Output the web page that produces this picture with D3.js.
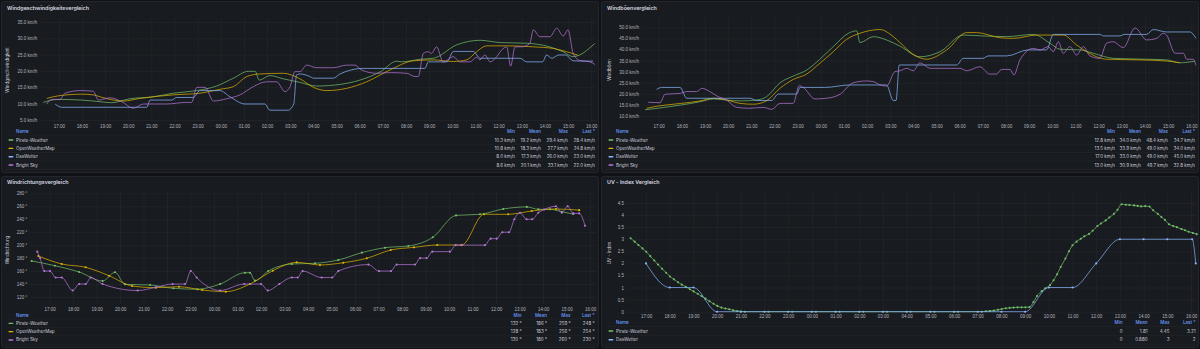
<!DOCTYPE html>
<html>
<head>
<meta charset="utf-8">
<script src="https://cdn.jsdelivr.net/npm/d3@7"></script>
<style>
  html, body { margin: 0; padding: 0; background: #111217; }
  svg { display: block; font-family: Inter, "Noto Sans", sans-serif; }
</style>
</head>
<body>
<svg id="dash" width="1200" height="349"></svg>
<script>
// Time is expressed in hours after 16:00 of the first day (17:00 = 1 ... 16:00 = 24).
const hourTicks = [1,2,3,4,5,6,7,8,9,10,11,12,13,14,15,16,17,18,19,20,21,22,23,24];
const hourLabels = ["17:00","18:00","19:00","20:00","21:00","22:00","23:00","00:00","01:00","02:00","03:00","04:00",
                    "05:00","06:00","07:00","08:00","09:00","10:00","11:00","12:00","13:00","14:00","15:00","16:00"];

// ---- Windgeschwindigkeit (km/h) ----
const speedTicks = [5,10,15,20,25,30,35];
const speedTickLabels = ["5.0 km/h","10.0 km/h","15.0 km/h","20.0 km/h","25.0 km/h","30.0 km/h","35.0 km/h"];
const speedPirate = [[0.33,10.4],[0.98,11.3],[2.0,11.1],[2.78,10.6],[3.28,10.3],[4.07,11.5],[5.08,12.1],[5.95,13.2],
  [6.96,14.0],[7.82,15.4],[8.54,17.8],[9.19,19.9],[9.48,19.9],[9.66,17.2],[10.12,18.6],[10.7,17.6],[11.42,16.5],
  [12.14,15.4],[13.15,15.9],[14.0,17.2],[14.9,19.8],[15.6,23.0],[15.8,22.8],[16.63,23.6],[17.18,23.9],[18.19,28.0],
  [19.2,29.4],[20.07,28.7],[21.2,28.5],[22.2,27.4],[22.78,25.9],[23.22,24.4],[24.15,28.4]];
const speedOwm = [[0.48,11.6],[0.98,12.4],[1.99,12.9],[2.49,12.7],[2.78,12.1],[3.35,11.1],[3.79,10.8],[4.5,11.6],
  [5.95,12.7],[7.1,13.2],[7.96,14.4],[8.54,15.2],[9.12,18.3],[9.69,19.1],[10.7,19.3],[11.42,17.6],[12.0,15.0],
  [12.57,14.0],[13.44,14.7],[14.3,16.7],[15.3,20.3],[16.31,23.1],[17.18,23.4],[18.04,22.9],[18.62,23.4],[19.05,25.9],
  [19.48,27.7],[20.35,27.7],[21.5,27.4],[22.36,26.9],[22.94,25.9],[23.44,24.8]];
const speedDw = [[0.84,9.9],[1.13,8.9],[4.8,8.9],[4.94,11.1],[5.88,11.1],[6.09,11.9],[6.81,11.9],[7.1,14.0],[7.96,14.0],
  [8.4,12.1],[9.04,9.9],[9.9,9.9],[10.12,8.0],[10.9,8.0],[11.15,9.9],[11.27,18.8],[11.42,19.1],[11.85,18.3],[12.0,17.8],
  [12.86,17.8],[13.15,19.1],[14.15,20.8],[16.82,20.8],[16.96,22.8],[17.76,22.8],[18.05,26.0],[18.91,26.0],[19.2,23.9],
  [20.93,23.9],[21.21,22.8],[21.9,22.8],[22.07,24.9],[22.3,23.9],[22.6,24.9],[22.9,24.9],[23.22,23.1],[24.08,23.0]];
const speedBs = [[0.48,9.9],[0.69,11.3],[1.05,11.3],[1.27,13.2],[1.92,14.0],[2.49,13.8],[2.71,11.1],[3.21,11.8],
  [3.72,10.6],[4.22,8.6],[4.65,9.9],[5.66,9.9],[6.52,10.4],[6.74,10.4],[6.96,15.0],[7.32,15.0],[7.68,10.8],[8.25,11.5],
  [8.83,12.7],[9.4,15.2],[9.98,16.7],[10.41,16.7],[10.77,13.7],[10.99,15.2],[11.2,19.8],[11.42,19.8],[11.71,21.8],
  [12.14,21.0],[12.86,21.0],[13.44,21.8],[13.79,21.8],[14.08,20.3],[14.73,19.3],[15.31,19.5],[16.03,19.3],[16.39,18.3],
  [16.53,18.3],[16.75,25.4],[16.96,25.9],[17.1,25.4],[17.32,27.4],[17.61,22.7],[18.04,24.4],[18.33,22.8],[18.76,22.8],
  [19.05,24.2],[19.19,23.4],[19.41,24.9],[19.63,22.8],[19.92,24.4],[20.13,26.4],[20.35,27.4],[20.52,21.5],[20.71,27.4],
  [21.0,27.4],[21.35,28.5],[21.5,32.6],[21.78,30.5],[22.22,30.5],[22.51,33.1],[22.79,30.7],[23.0,32.6],[23.22,25.4],
  [23.51,23.2],[23.94,22.8],[24.16,22.0]];
const speedStats = [["10.3 km/h","19.2 km/h","29.4 km/h","28.4 km/h"],
                    ["10.8 km/h","18.3 km/h","27.7 km/h","24.8 km/h"],
                    ["8.0 km/h","17.3 km/h","26.0 km/h","23.0 km/h"],
                    ["8.6 km/h","20.1 km/h","33.1 km/h","22.0 km/h"]];

// ---- Windböen (km/h) ----
const gustTicks = [10,15,20,25,30,35,40,45,50];
const gustTickLabels = ["10.0 km/h","15.0 km/h","20.0 km/h","25.0 km/h","30.0 km/h","35.0 km/h","40.0 km/h","45.0 km/h","50.0 km/h"];
const gustPirate = [[0.41,12.8],[0.98,13.5],[1.99,15.0],[2.78,16.4],[3.36,17.7],[3.94,17.2],[4.51,16.8],[5.23,17.2],
  [5.66,18.7],[6.24,25.0],[6.81,28.0],[7.39,30.7],[7.96,35.6],[8.54,41.3],[9.19,47.3],[9.55,48.4],[9.69,43.1],
  [10.27,45.8],[10.84,44.3],[11.42,41.5],[12.28,36.7],[13.15,39.0],[14.15,46.5],[15.0,46.1],[16.03,45.8],[17.18,46.8],
  [17.9,42.8],[18.33,40.1],[19.2,39.8],[19.76,38.3],[20.63,36.0],[22.07,35.6],[22.93,35.3],[23.5,34.0],[24.15,34.7]];
const gustOwm = [[0.48,13.5],[0.98,14.5],[1.99,15.7],[2.78,16.8],[3.36,18.0],[3.94,17.2],[4.51,15.7],[5.09,15.3],
  [5.66,16.9],[6.24,22.5],[6.81,26.5],[7.39,28.9],[7.96,33.8],[8.54,39.0],[9.12,44.6],[9.69,47.3],[10.55,49.0],
  [11.13,45.8],[11.42,43.1],[11.99,37.8],[12.57,35.6],[13.44,39.8],[14.3,47.6],[14.73,47.6],[15.74,45.3],[16.31,45.0],
  [17.32,46.5],[18.47,46.5],[19.05,42.0],[19.48,39.0],[20.34,35.6],[21.78,35.3],[22.93,34.8],[23.5,34.0]];
const gustDw = [[0.91,22.0],[1.13,22.9],[1.92,22.9],[2.21,18.0],[4.94,18.0],[5.23,17.0],[5.88,17.0],[6.16,19.9],
  [6.96,19.9],[7.1,22.9],[8.2,22.9],[9.26,24.0],[10.84,24.0],[11.13,17.0],[11.25,17.0],[11.39,33.0],[13.87,33.0],
  [14.15,36.0],[15.0,36.0],[15.23,37.1],[16.03,37.1],[16.96,39.8],[17.75,39.8],[18.04,46.8],[20.05,46.8],[20.2,46.1],
  [20.92,46.1],[21.1,46.8],[22.07,46.8],[22.36,49.0],[22.93,47.9],[23.94,47.9],[24.2,45.0]];
const gustBs = [[0.55,16.2],[1.06,16.0],[1.27,19.8],[1.92,20.2],[2.21,21.0],[2.64,21.0],[2.86,22.5],[3.21,21.0],
  [3.57,18.7],[3.93,17.2],[4.37,13.9],[4.94,13.5],[5.52,13.9],[5.88,13.0],[6.24,15.7],[6.81,15.7],[7.07,23.7],
  [7.24,22.9],[7.75,17.7],[8.25,18.0],[8.83,19.8],[9.4,25.0],[9.98,25.8],[10.27,25.5],[10.56,24.0],[10.84,23.5],
  [11.2,30.0],[11.42,30.4],[11.71,31.5],[12.0,30.4],[12.28,34.0],[12.72,31.5],[14.01,31.5],[14.3,30.4],[14.87,32.2],
  [15.3,28.9],[15.59,28.9],[15.8,31.0],[16.17,31.0],[16.34,28.5],[16.6,35.3],[17.18,40.5],[17.47,39.8],[17.82,41.3],
  [18.04,39.0],[18.26,43.5],[18.47,38.3],[18.76,41.3],[19.05,37.5],[19.34,41.3],[19.62,37.1],[20.05,36.0],[20.34,42.8],
  [20.63,43.5],[21.06,40.8],[21.57,49.7],[22.07,44.3],[22.5,45.0],[22.79,47.3],[22.93,46.5],[23.3,38.3],[23.66,38.3],
  [23.8,35.6],[24.09,35.6],[24.2,32.8]];
const gustStats = [["12.8 km/h","34.0 km/h","48.4 km/h","34.7 km/h"],
                   ["13.5 km/h","33.9 km/h","49.0 km/h","34.0 km/h"],
                   ["17.0 km/h","33.0 km/h","49.0 km/h","45.0 km/h"],
                   ["13.0 km/h","30.9 km/h","49.7 km/h","32.8 km/h"]];

// ---- Windrichtung (°) ----
const dirTicks = [120,140,160,180,200,220,240,260,280];
const dirTickLabels = ["120 °","140 °","160 °","180 °","200 °","220 °","240 °","260 °","280 °"];
const dirPirate = [[0.24,175.6],[1.23,168.3],[2.26,158.6],[3.26,144.7],[3.79,158.1],[4.21,139.6],[5.28,138.5],
  [6.27,133.4],[7.29,132],[8.26,140],[9.32,157.5],[9.53,157.5],[9.74,145.2],[10.31,160.1],[11.31,170.9],[12.3,172],
  [13.29,177.1],[14.29,188.4],[15.28,196.1],[16.27,198.7],[17.31,212.1],[18.3,245.9],[19.32,247.6],[20.31,255.8],
  [21.31,259],[21.8,255.3],[22.3,255.3],[22.8,251.6],[23.29,248]];
const dirOwm = [[0.52,183.3],[1.52,170.9],[2.54,165.8],[3.53,152.9],[4.52,137],[5.52,134.4],[6.51,135.9],[7.5,130.8],
  [8.5,128.2],[9.53,140],[10.5,160.6],[11.52,173.5],[12.51,169.4],[13.5,172.9],[14.5,179.7],[15.52,192.5],[16.51,196.6],
  [17.5,200.2],[18.54,200.2],[19.49,247.6],[20.52,247.6],[21.52,252.7],[22.55,255.8],[23.54,254]];
const dirBs = [[0.48,190],[0.6,180],[0.78,160],[1.02,160],[1.26,150],[1.52,150],[1.99,130],[2.26,140],[2.54,140],
  [2.75,150],[3.26,140],[4.75,130],[5.53,135],[6.24,140],[6.77,140],[7.01,160],[7.26,150],[8.26,130],[9.29,140],
  [10.0,140],[10.29,130],[10.78,140],[11.31,150],[11.56,150],[11.77,160],[12.58,150],[13.03,150],[13.29,160],
  [14.57,170],[15.02,160],[15.53,160],[15.77,170],[16.55,170],[16.77,180],[17.05,180],[17.29,190],[18.04,190],
  [18.28,200],[18.53,200],[19.53,200],[19.77,210],[20.03,210],[20.27,220],[20.55,220],[20.78,240],[21.02,250],
  [21.3,240],[21.54,240],[21.8,250],[22.05,255],[22.55,260],[22.8,250],[23.05,260],[23.29,249],[23.54,249],[23.79,230]];
const dirStats = [["132 °","186 °","259 °","248 °"],
                  ["128 °","183 °","256 °","254 °"],
                  ["130 °","180 °","260 °","230 °"]];

// ---- UV-Index ----
const uvTicks = [0,0.5,1,1.5,2,2.5,3,3.5,4,4.5];
const uvTickLabels = ["0","0.5","1","1.5","2","2.5","3","3.5","4","4.5"];
const uvPirate = [[0.35,3.04],[0.52,2.9],[0.68,2.76],[0.85,2.62],[1.01,2.48],[1.18,2.3],[1.35,2.12],[1.51,1.95],
  [1.68,1.78],[1.85,1.61],[2.01,1.46],[2.18,1.34],[2.35,1.22],[2.51,1.12],[2.68,1.03],[2.85,0.93],[3.01,0.84],
  [3.18,0.74],[3.35,0.64],[3.51,0.54],[3.68,0.43],[3.85,0.33],[4.01,0.24],[4.18,0.17],[4.35,0.13],[4.51,0.1],
  [4.68,0.06],[4.85,0.03],[5.01,0.01],[5.17,0],[6.17,0],[7.17,0],[8.17,0],[9.17,0],[10.17,0],[11.17,0],[12.17,0],
  [13.17,0],[14.17,0],[15.17,0],[15.34,0.02],[15.51,0.03],[15.68,0.05],[15.85,0.08],[16.01,0.11],[16.18,0.14],
  [16.35,0.16],[16.51,0.17],[16.68,0.18],[16.85,0.18],[17.01,0.18],[17.18,0.19],[17.35,0.4],[17.5,0.65],[17.7,0.85],
  [17.85,0.97],[18.05,1.1],[18.2,1.3],[18.35,1.55],[18.5,1.85],[18.7,2.2],[18.85,2.5],[19.0,2.75],[19.17,2.9],
  [19.35,3.02],[19.5,3.12],[19.7,3.22],[19.85,3.35],[20.05,3.55],[20.2,3.65],[20.4,3.78],[20.55,3.9],[20.75,4.05],
  [20.9,4.22],[21.07,4.45],[21.25,4.43],[21.4,4.42],[21.6,4.4],[21.75,4.38],[21.9,4.36],[22.07,4.37],[22.25,4.35],
  [22.4,4.2],[22.6,4.05],[22.75,3.92],[22.9,3.8],[23.07,3.62],[23.25,3.55],[23.4,3.5],[23.6,3.42],[23.75,3.37],
  [23.9,3.31],[24.08,3.26],[24.24,3.21]];
const uvDw = [[1,2],[2,1],[3,1],[4,0],[5,0],[6,0],[7,0],[8,0],[9,0],[10,0],[11,0],[12,0],[13,0],[14,0],[15,0],[16,0],
  [17,0],[18,1],[19,1],[20,2],[21,3],[22,3],[23,3],[24.05,3],[24.2,2]];
const uvStats = [["0","1.81","4.45","3.21"],
                 ["0","0.880","3","2"]];

const statHeaders = ["Min","Mean","Max","Last *"];
const colors = { "Pirate-Weather": "#73bf69", "OpenWeatherMap": "#e0b400", "DasWetter": "#8ab8ff", "Bright Sky": "#b877d9" };

const svg = d3.select("#dash");
const TEXT = "#ccccdc", TICK = "#b4b5bd", GRID = "#26292e", BLUE = "#6e9fff";

function drawPanel(p) {
  const g = svg.append("g");
  const [bx, by, bw, bh] = p.box;
  g.append("rect").attr("x", bx + 0.5).attr("y", by + 0.5).attr("width", bw - 1).attr("height", bh - 1)
    .attr("rx", 2).attr("fill", "#181b1f").attr("stroke", "#22252b");

  g.append("text").attr("x", bx + 6).attr("y", p.titleY).attr("dominant-baseline", "central")
    .attr("fill", "#d8d9e3").attr("font-size", 5.3).attr("font-weight", 600).text(p.title);

  const x = d3.scaleLinear().domain([1, 24]).range(p.xRange);
  const y = d3.scaleLinear().domain(p.yDomain).range(p.yRange);

  // grid
  g.append("g").attr("transform", `translate(${p.plot.left},0)`)
    .call(d3.axisLeft(y).tickValues(p.yTicks).tickSize(-(p.plot.right - p.plot.left)).tickFormat(""))
    .call(a => { a.select(".domain").remove(); a.selectAll("line").attr("stroke", GRID).attr("stroke-width", 0.6); });
  g.append("g").attr("transform", `translate(0,${p.plot.bottom})`)
    .call(d3.axisBottom(x).tickValues(hourTicks).tickSize(-(p.plot.bottom - p.plot.top)).tickFormat(""))
    .call(a => { a.select(".domain").remove(); a.selectAll("line").attr("stroke", GRID).attr("stroke-width", 0.6); });

  // tick labels
  g.append("g").attr("transform", `translate(${p.yLabelRight},0)`)
    .call(d3.axisLeft(y).tickValues(p.yTicks).tickSize(0).tickPadding(0).tickFormat((d, i) => p.yTickLabels[i]))
    .call(a => { a.select(".domain").remove();
      a.selectAll("text").attr("fill", TICK).attr("font-size", 4.5).attr("font-family", null).attr("dy", null)
        .attr("dominant-baseline", "central"); });
  g.append("g").attr("transform", `translate(0,${p.xLabelY})`)
    .call(d3.axisBottom(x).tickValues(hourTicks).tickSize(0).tickPadding(0).tickFormat((d, i) => hourLabels[i]))
    .call(a => { a.select(".domain").remove();
      a.selectAll("text").attr("fill", TICK).attr("font-size", 4.5).attr("font-family", null).attr("dy", null)
        .attr("dominant-baseline", "central"); });

  // axis title
  g.append("text").attr("transform", `translate(${p.yTitleX},${p.yTitleY}) rotate(-90)`)
    .attr("text-anchor", "middle").attr("dominant-baseline", "central")
    .attr("fill", TEXT).attr("font-size", 4.5).text(p.yTitle);

  // series
  const line = d3.line().x(d => x(d[0])).y(d => y(d[1])).curve(d3.curveMonotoneX);
  p.series.forEach(s => {
    g.append("path").datum(s.data).attr("d", line).attr("fill", "none")
      .attr("stroke", colors[s.name]).attr("stroke-width", 0.9).attr("stroke-opacity", 0.8);
    if (p.points) {
      g.append("g").selectAll("circle").data(s.data).join("circle")
        .attr("cx", d => x(d[0])).attr("cy", d => y(d[1])).attr("r", 1.05).attr("fill", colors[s.name]);
    }
  });

  // legend table
  const L = p.legend;
  g.append("text").attr("x", bx + 15).attr("y", L.headerY).attr("dominant-baseline", "central")
    .attr("fill", BLUE).attr("font-size", 4.5).attr("font-weight", 500).text("Name");
  statHeaders.forEach((h, j) => {
    g.append("text").attr("x", L.cols[j]).attr("y", L.headerY).attr("text-anchor", "end")
      .attr("dominant-baseline", "central").attr("fill", BLUE).attr("font-size", 4.5).attr("font-weight", 500).text(h);
  });
  p.series.forEach((s, i) => {
    const ry = L.headerY + (i + 1) * L.step;
    g.append("line").attr("x1", bx + 4).attr("x2", bx + bw - 4)
      .attr("y1", ry - L.step / 2).attr("y2", ry - L.step / 2).attr("stroke", "#24272c").attr("stroke-width", 0.6);
    g.append("rect").attr("x", bx + 7.5).attr("y", ry - 0.7).attr("width", 4.8).attr("height", 1.4)
      .attr("rx", 0.5).attr("fill", colors[s.name]);
    g.append("text").attr("x", bx + 15).attr("y", ry).attr("dominant-baseline", "central")
      .attr("fill", TEXT).attr("font-size", 4.5).text(s.name);
    p.stats[i].forEach((v, j) => {
      g.append("text").attr("x", L.cols[j]).attr("y", ry).attr("text-anchor", "end")
        .attr("dominant-baseline", "central").attr("fill", TEXT).attr("font-size", 4.5).text(v);
    });
  });
  const lastY = L.headerY + (p.series.length + 0.5) * L.step;
  g.append("line").attr("x1", bx + 4).attr("x2", bx + bw - 4)
    .attr("y1", lastY).attr("y2", lastY).attr("stroke", "#24272c").attr("stroke-width", 0.6);
}

drawPanel({
  box: [1, 1, 598, 172], title: "Windgeschwindigkeitsvergleich", titleY: 7.5,
  xRange: [58.8, 591.2], yDomain: [5, 35], yRange: [120, 22],
  plot: { left: 41, right: 596, top: 18, bottom: 122 },
  yTicks: speedTicks, yTickLabels: speedTickLabels, yLabelRight: 37.3, xLabelY: 126,
  yTitle: "Windgeschwindigkeit", yTitleX: 7, yTitleY: 70,
  series: [{ name: "Pirate-Weather", data: speedPirate }, { name: "OpenWeatherMap", data: speedOwm },
           { name: "DasWetter", data: speedDw }, { name: "Bright Sky", data: speedBs }],
  stats: speedStats, points: false,
  legend: { headerY: 131.7, step: 8.33, cols: [515, 541, 568, 595] }
});

drawPanel({
  box: [601, 1, 598, 172], title: "Windböenvergleich", titleY: 7.5,
  xRange: [658.7, 1191.3], yDomain: [10, 50], yRange: [116, 27.3],
  plot: { left: 641, right: 1196, top: 18, bottom: 122 },
  yTicks: gustTicks, yTickLabels: gustTickLabels, yLabelRight: 639, xLabelY: 126,
  yTitle: "Windböen", yTitleX: 609, yTitleY: 70,
  series: [{ name: "Pirate-Weather", data: gustPirate }, { name: "OpenWeatherMap", data: gustOwm },
           { name: "DasWetter", data: gustDw }, { name: "Bright Sky", data: gustBs }],
  stats: gustStats, points: false,
  legend: { headerY: 131.7, step: 8.33, cols: [1115, 1141, 1168, 1195] }
});

drawPanel({
  box: [1, 176, 598, 172], title: "Windrichtungsvergleich", titleY: 182,
  xRange: [49.5, 590], yDomain: [120, 280], yRange: [297, 193.3],
  plot: { left: 30, right: 596, top: 191, bottom: 304 },
  yTicks: dirTicks, yTickLabels: dirTickLabels, yLabelRight: 27.3, xLabelY: 309.3,
  yTitle: "Windrichtung", yTitleX: 7, yTitleY: 250,
  series: [{ name: "Pirate-Weather", data: dirPirate }, { name: "OpenWeatherMap", data: dirOwm },
           { name: "Bright Sky", data: dirBs }],
  stats: dirStats, points: true,
  legend: { headerY: 315, step: 8.33, cols: [521.5, 547, 570.5, 594.5] }
});

drawPanel({
  box: [601, 176, 598, 172], title: "UV - Index Vergleich", titleY: 182,
  xRange: [646, 1191], yDomain: [0, 4.5], yRange: [311.7, 203],
  plot: { left: 627, right: 1196, top: 193, bottom: 313.5 },
  yTicks: uvTicks, yTickLabels: uvTickLabels, yLabelRight: 624, xLabelY: 316.7,
  yTitle: "UV - Index", yTitleX: 609, yTitleY: 253,
  series: [{ name: "Pirate-Weather", data: uvPirate }, { name: "DasWetter", data: uvDw }],
  stats: uvStats, points: true,
  legend: { headerY: 322.3, step: 8.7, cols: [1122.5, 1147.5, 1169.5, 1195.5] }
});
</script>
</body>
</html>
